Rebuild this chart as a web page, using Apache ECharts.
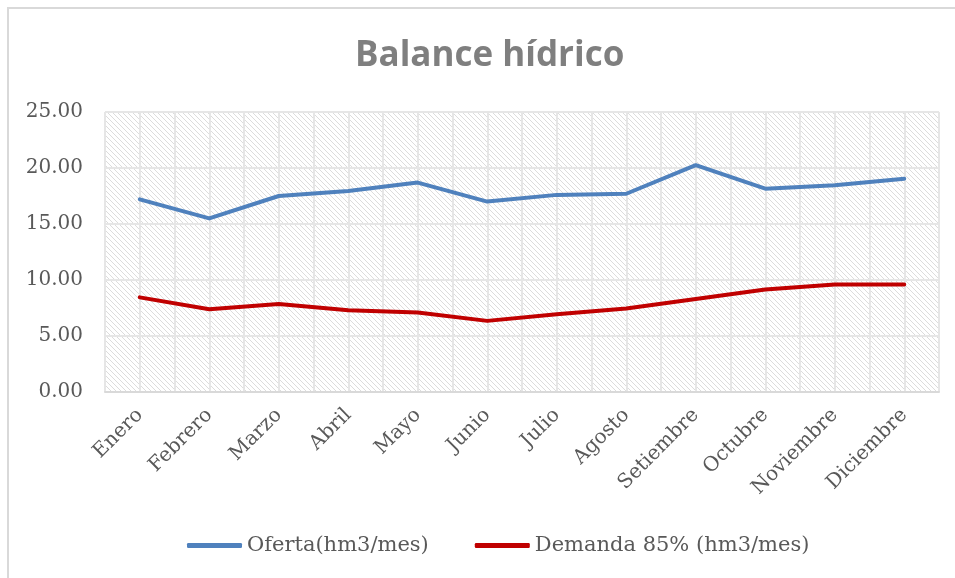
<!DOCTYPE html>
<html>
<head>
<meta charset="utf-8">
<script src="https://cdn.jsdelivr.net/npm/echarts@6/dist/echarts.min.js"></script>
<style>
  html, body { margin: 0; padding: 0; background: #fff; }
  #chart { width: 955px; height: 578px; }
</style>
</head>
<body>
<div id="chart"></div>
<script>
// datos
const meses = ['Enero', 'Febrero', 'Marzo', 'Abril', 'Mayo', 'Junio', 'Julio', 'Agosto', 'Setiembre', 'Octubre', 'Noviembre', 'Diciembre'];
const oferta = [17.2, 15.5, 17.5, 17.95, 18.7, 17.0, 17.6, 17.7, 20.25, 18.15, 18.45, 19.05];
const demanda = [8.45, 7.38, 7.86, 7.3, 7.1, 6.35, 6.95, 7.45, 8.3, 9.15, 9.6, 9.6];
const yTicks = [0, 5, 10, 15, 20, 25];

// fondo rayado del area de trazado
const pat = document.createElement('canvas');
pat.width = 5;
pat.height = 5;
const pctx = pat.getContext('2d');
pctx.fillStyle = '#fff';
pctx.fillRect(0, 0, 5, 5);
pctx.fillStyle = '#dcdcdc';
for (let i = 0; i < 5; i++) pctx.fillRect(i, i, 1, 1);

const labelFont = 'DejaVu Serif';
const chart = echarts.init(document.getElementById('chart'));

chart.setOption({
  backgroundColor: '#fff',
  animation: false,
  title: {
    text: 'Balance hídrico',
    left: 350,
    top: 34,
    textStyle: { fontFamily: 'Open Sans', fontWeight: 'bold', fontSize: 35, color: '#7f7f7f' }
  },
  graphic: [{
    type: 'rect',
    shape: { x: 8, y: 8, width: 1000, height: 1000 },
    style: { fill: null, stroke: '#d9d9d9', lineWidth: 2 },
    silent: true
  }],
  legend: {
    bottom: 17,
    left: 182,
    icon: 'roundRect',
    itemWidth: 55,
    itemHeight: 5,
    itemGap: 46,
    textStyle: { fontFamily: labelFont, fontSize: 21, color: '#595959' },
    data: ['Oferta(hm3/mes)', 'Demanda 85% (hm3/mes)']
  },
  grid: {
    left: 105,
    right: 16,
    top: 112,
    bottom: 186,
    show: true,
    backgroundColor: { image: pat, repeat: 'repeat' },
    borderColor: '#d9d9d9',
    borderWidth: 1
  },
  xAxis: [{
    type: 'category',
    data: meses,
    boundaryGap: true,
    axisLine: { lineStyle: { color: '#d9d9d9', width: 2 } },
    axisTick: { show: false },
    splitLine: { show: false },
    axisLabel: {
      rotate: 45,
      interval: 0,
      margin: 20,
      fontFamily: labelFont,
      fontSize: 20,
      color: '#595959'
    }
  }, {
    // lineas verticales cada media categoria
    type: 'value',
    min: 0,
    max: meses.length * 2,
    interval: 1,
    position: 'top',
    axisLine: { show: false },
    axisTick: { show: false },
    axisLabel: { show: false },
    splitLine: { show: true, lineStyle: { color: '#e6e6e6', width: 2 } }
  }],
  yAxis: {
    type: 'value',
    min: yTicks[0],
    max: yTicks[yTicks.length - 1],
    interval: 5,
    axisLine: { show: false },
    axisTick: { show: false },
    splitLine: { lineStyle: { color: '#e6e6e6', width: 2 } },
    axisLabel: {
      margin: 22,
      fontFamily: labelFont,
      fontSize: 20,
      color: '#595959',
      formatter: v => v.toFixed(2)
    }
  },
  series: [{
    name: 'Oferta(hm3/mes)',
    type: 'line',
    data: oferta,
    symbol: 'none',
    lineStyle: { color: '#4f81bd', width: 4, join: 'round', cap: 'round' },
    itemStyle: { color: '#4f81bd' },
    z: 3
  }, {
    name: 'Demanda 85% (hm3/mes)',
    type: 'line',
    data: demanda,
    symbol: 'none',
    lineStyle: { color: '#c00000', width: 4, join: 'round', cap: 'round' },
    itemStyle: { color: '#c00000' },
    z: 3
  }]
});
</script>
</body>
</html>
